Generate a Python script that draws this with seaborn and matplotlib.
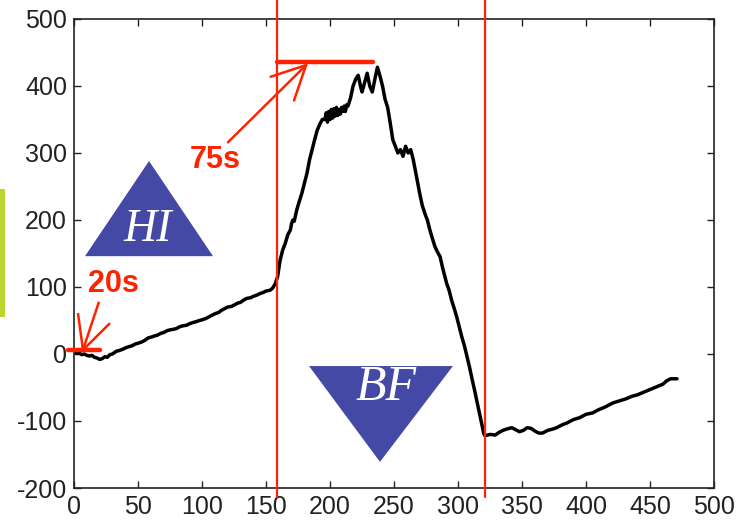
import matplotlib
matplotlib.use("Agg")
import matplotlib.pyplot as plt
import matplotlib.patches as mpatches
import seaborn as sns
import pandas as pd

# ---- data ----
time_s = [0, 2, 4, 6, 8, 10, 12, 14, 16, 18, 20, 22, 24, 26, 28, 30, 33, 35, 38, 40,
          43, 45, 48, 50, 53, 55, 58, 60, 63, 65, 68, 70, 73, 75, 78, 80, 83, 85, 88, 90,
          93, 95, 98, 100, 103, 105, 108, 110, 113, 115, 118, 120, 123, 125, 128, 130,
          133, 135, 138, 140, 143, 145, 148, 150, 153, 155, 157, 159, 161, 163, 165, 167,
          169, 170, 171, 172, 174, 176, 178, 180, 182, 184, 186, 188, 190, 192, 194, 196,
          197, 198, 199, 200, 201, 202, 203, 204, 205, 206, 207, 208, 209, 210, 211, 212,
          213, 214, 216, 218, 220, 222, 224, 225, 227, 229, 231, 233, 235, 237, 239, 241,
          243, 245, 247, 249, 251, 253, 255, 257, 259, 261, 263, 265, 268, 270, 272, 274,
          276, 278, 280, 282, 284, 286, 288, 291, 293, 295, 297, 299, 301, 303, 305, 307,
          309, 311, 313, 315, 318, 320, 321, 325, 329, 332, 335, 338, 342, 345, 348, 351,
          354, 357, 360, 363, 366, 370, 374, 377, 381, 385, 390, 395, 400, 405, 410, 415,
          421, 426, 431, 436, 440, 445, 450, 455, 460, 463, 466, 471]
signal = [3, 1, 2, -1, 0, -2, -3, -2, -5, -6, -8, -7, -4, -5, -1, 0, 4, 5, 7, 9,
          11, 12, 15, 16, 18, 20, 24, 25, 27, 28, 31, 32, 35, 36, 37, 38, 41, 42, 43, 45,
          47, 48, 50, 51, 53, 55, 58, 60, 62, 65, 68, 70, 71, 73, 76, 77, 81, 83, 84, 86,
          88, 90, 92, 94, 95, 98, 104, 115, 140, 155, 165, 178,
          185, 195, 200, 198, 215, 228, 240, 255, 270, 290, 305, 320, 334, 343, 350, 350,
          360, 346, 362, 350, 365, 352, 366, 355, 368, 356, 365, 358, 368, 362, 370, 362,
          372, 370, 382, 400, 410, 416, 398, 391, 405, 419, 400, 391, 410, 428, 415, 400,
          380, 368, 345, 320, 310, 300, 305, 295, 310, 300, 305, 290, 260, 240, 222, 210,
          200, 185, 172, 160, 152, 145, 128, 106, 95, 80, 68, 55, 40, 25, 12, -4,
          -20, -38, -55, -73, -100, -118, -122, -120, -121, -117, -114, -112, -110, -113, -116, -114,
          -110, -111, -115, -118, -118, -114, -112, -110, -106, -103, -98, -95, -90, -88, -83, -79,
          -73, -70, -67, -63, -61, -57, -53, -49, -45, -40, -37, -37]

x_ticks = [0, 50, 100, 150, 200, 250, 300, 350, 400, 450, 500]
y_ticks = [-200, -100, 0, 100, 200, 300, 400, 500]
event_times = [158.6, 321]
hi_triangle = [(8.6, 146), (108.6, 146), (58.6, 288)]
bf_triangle = [(183.6, -18), (296, -18), (239, -161)]

RED = "#ff2200"
BLUE = "#4349a5"

sns.set_theme(style="ticks")
plt.rcParams["font.family"] = ["Liberation Sans", "DejaVu Sans"]
plt.rcParams["axes.unicode_minus"] = False

fig = plt.figure(figsize=(7.4, 5.27), dpi=100)
ax = fig.add_axes([0.1, 0.074, 0.865, 0.89])

df = pd.DataFrame({"t": time_s, "v": signal})
sns.lineplot(data=df, x="t", y="v", ax=ax, color="black", lw=2.5, estimator=None, sort=False)

ax.set_xlim(0, 500)
ax.set_ylim(-200, 500)
ax.set_xticks(x_ticks)
ax.set_yticks(y_ticks)
ax.set_xlabel("")
ax.set_ylabel("")
ax.tick_params(direction="in", length=5, width=1, top=True, right=True,
               labelsize=18, colors="#222222", pad=5)
for s in ax.spines.values():
    s.set_visible(True)
    s.set_color("#222222")
    s.set_linewidth(1.2)

# vertical red event lines extending beyond the axes
for t in event_times:
    ax.plot([t, t], [-213, 530], color=RED, lw=1.6, clip_on=False, zorder=5)

# horizontal red markers
ax.plot([158.6, 233.6], [436, 436], color=RED, lw=3.2, clip_on=False, zorder=5)
ax.plot([-4.7, 20.3], [6, 6], color=RED, lw=3.2, clip_on=False, zorder=5)

# 75s arrow
ax.annotate("", xy=(182.8, 434), xytext=(120.3, 316),
            arrowprops=dict(arrowstyle="->", mutation_scale=60, lw=1.8, color=RED,
                            shrinkA=0, shrinkB=0), zorder=6)
# 20s arrow (open head drawn as three strokes)
tip20 = (7, 6)
for end in [(19.5, 78), (3.1, 61), (28.1, 46)]:
    ax.plot([tip20[0], end[0]], [tip20[1], end[1]], color=RED, lw=1.8,
            solid_capstyle="butt", clip_on=False, zorder=6)

ax.text(110, 290, "75s", color=RED, fontsize=22, fontweight="bold", ha="center", va="center")
ax.text(30.5, 104, "20s", color=RED, fontsize=22, fontweight="bold", ha="center", va="center")

# triangles
ax.add_patch(mpatches.Polygon(hi_triangle, closed=True, color=BLUE, lw=0, zorder=3))
ax.add_patch(mpatches.Polygon(bf_triangle, closed=True, color=BLUE, lw=0, zorder=3))
ax.text(57.8, 185, "HI", color="white", fontsize=33, fontstyle="italic",
        family=["Liberation Serif", "DejaVu Serif"], ha="center", va="center", zorder=4)
ax.text(243.7, -51, "BF", color="white", fontsize=36, fontstyle="italic",
        family=["Liberation Serif", "DejaVu Serif"], ha="center", va="center", zorder=4)

# green side bar
fig.patches.append(mpatches.Rectangle((0, 0.3985), 0.0068, 0.2425, transform=fig.transFigure,
                                      color="#b8d830", lw=0))

fig.savefig("out.png", dpi=100)
